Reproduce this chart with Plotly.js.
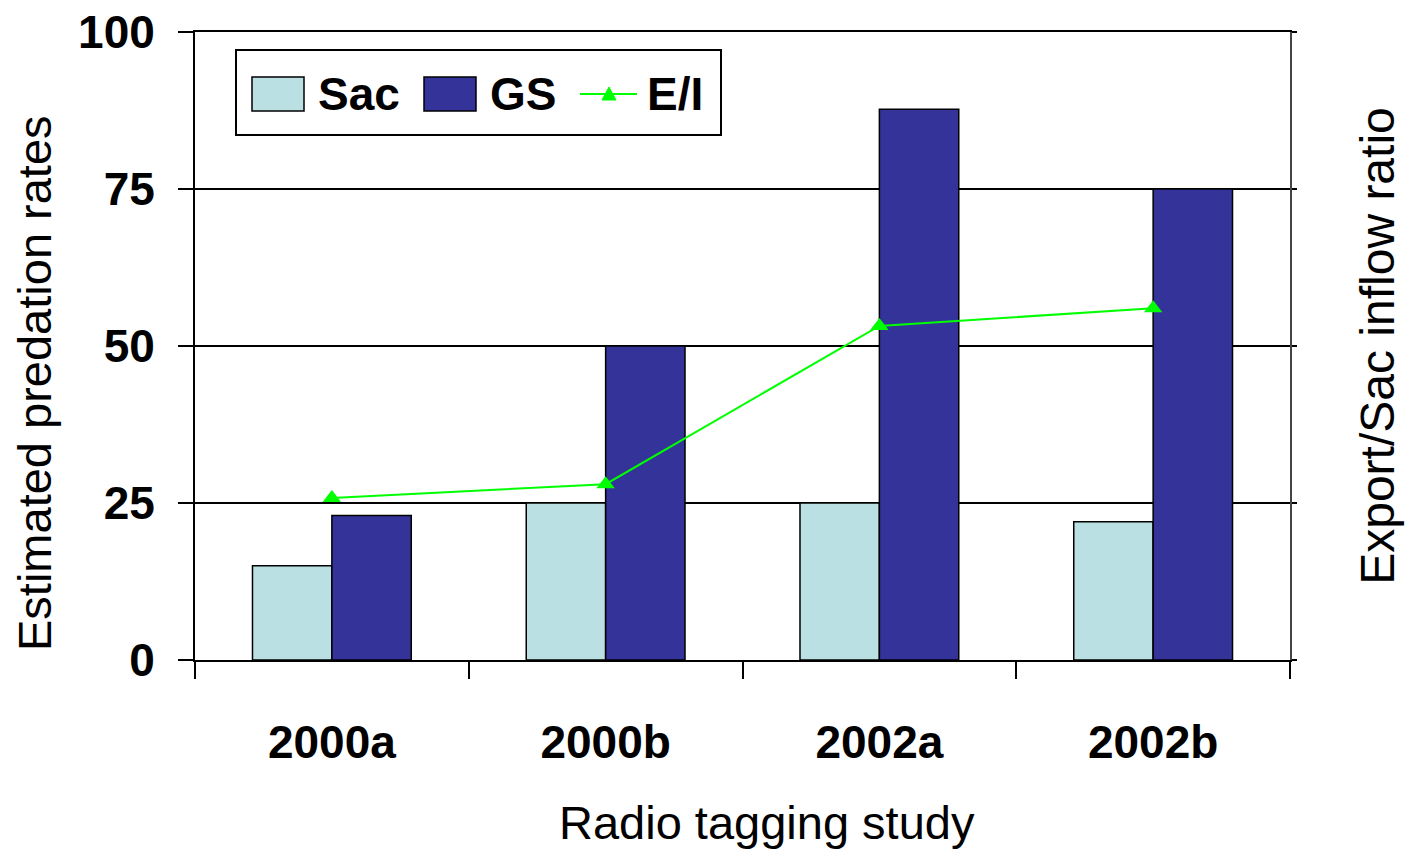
<!DOCTYPE html>
<html>
<head>
<meta charset="utf-8">
<script src="https://cdn.plot.ly/plotly-3.0.1.min.js"></script>
<style>html,body{margin:0;padding:0;background:#fff;}#chart{width:1406px;height:849px;}</style>
</head>
<body>
<div id="chart"></div>
<script>
// ---- data ----
const categories = ["2000a", "2000b", "2002a", "2002b"];
const sacValues = [15, 25, 25, 22];
const gsValues = [23, 50, 87.7, 75];
const eiValues = [0.258, 0.28, 0.532, 0.56];
const yTickValues = [0, 25, 50, 75, 100];
const yTickLabels = ["0", "25", "50", "75", "100"];
const xTitle = "Radio tagging study";
const yTitle = "Estimated predation rates";
const y2Title = "Export/Sac inflow ratio";

// ---- layout constants ----
const W = 1406, H = 849;
const L = 195, R = 1290, T = 32, B = 660;
const FONT = "Liberation Sans, Arial, sans-serif";
const px = x => (x - L) / (R - L);
const py = y => (B - y) / (B - T);

const traces = [
  {type: "bar", name: "Sac", x: categories, y: sacValues,
   marker: {color: "#BBE0E3", line: {color: "#000", width: 1.5}}, showlegend: false},
  {type: "bar", name: "GS", x: categories, y: gsValues,
   marker: {color: "#333399", line: {color: "#000", width: 1.5}}, showlegend: false},
  {type: "scatter", mode: "lines+markers", name: "E/I", x: categories, y: eiValues, yaxis: "y2",
   line: {color: "#00FF00", width: 2}, marker: {symbol: "triangle-up", size: 16, color: "#00FF00"},
   showlegend: false}
];

// custom legend (large swatches like the original)
const legY = 94;
const shapes = [
  {type: "rect", xref: "paper", yref: "paper", x0: px(236), x1: px(721), y0: py(135), y1: py(50),
   line: {color: "#000", width: 2}, fillcolor: "#fff", layer: "above"},
  {type: "rect", xref: "paper", yref: "paper", x0: px(252), x1: px(304), y0: py(111), y1: py(77),
   line: {color: "#000", width: 1.5}, fillcolor: "#BBE0E3", layer: "above"},
  {type: "rect", xref: "paper", yref: "paper", x0: px(424), x1: px(476), y0: py(111), y1: py(77),
   line: {color: "#000", width: 1.5}, fillcolor: "#333399", layer: "above"},
  {type: "line", xref: "paper", yref: "paper", x0: px(580), x1: px(637), y0: py(legY), y1: py(legY),
   line: {color: "#00FF00", width: 2}, layer: "above"},
  {type: "path", xref: "paper", yref: "paper", layer: "above",
   path: `M ${px(602)} ${py(legY+6)} L ${px(616)} ${py(legY+6)} L ${px(609)} ${py(legY-7)} Z`,
   fillcolor: "#00FF00", line: {color: "#00FF00", width: 1}}
];

const legFont = {family: FONT, size: 46, color: "#000", weight: "bold"};
const titleFont = {family: FONT, size: 47, color: "#000"};
const annotations = [
  {xref: "paper", yref: "paper", x: px(316), y: py(legY), xanchor: "left", yanchor: "middle",
   text: "Sac", showarrow: false, font: legFont},
  {xref: "paper", yref: "paper", x: px(488), y: py(legY), xanchor: "left", yanchor: "middle",
   text: "GS", showarrow: false, font: legFont},
  {xref: "paper", yref: "paper", x: px(645), y: py(legY), xanchor: "left", yanchor: "middle",
   text: "E/I", showarrow: false, font: legFont},
  {xref: "paper", yref: "paper", x: px(767), y: py(822), xanchor: "center", yanchor: "middle",
   text: xTitle, showarrow: false, font: titleFont},
  {xref: "paper", yref: "paper", x: px(34), y: py(383), xanchor: "center", yanchor: "middle",
   text: yTitle, textangle: -90, showarrow: false, font: titleFont}
];

const layout = {
  width: W, height: H,
  margin: {l: L, r: W - R, t: T, b: H - B, pad: 0},
  paper_bgcolor: "#fff", plot_bgcolor: "#fff",
  barmode: "group", bargap: 0.42, bargroupgap: 0,
  showlegend: false,
  xaxis: {
    type: "category", range: [-0.5, 3.5],
    showline: true, linecolor: "#000", linewidth: 2, mirror: true,
    ticks: "outside", tickson: "boundaries", ticklen: 17, tickwidth: 2, tickcolor: "#000",
    showgrid: false, zeroline: false,
    tickfont: {family: FONT, size: 46, color: "#000", weight: "bold"},
    ticklabelstandoff: 41,
    automargin: false
  },
  yaxis: {
    range: [0, 100], tickvals: yTickValues, ticktext: yTickLabels,
    showline: true, linecolor: "#000", linewidth: 2,
    ticks: "outside", ticklen: 15, tickwidth: 2, tickcolor: "#000",
    showgrid: true, gridcolor: "#000", gridwidth: 2, zeroline: false,
    tickfont: {family: FONT, size: 46, color: "#000", weight: "bold"},
    ticklabelstandoff: 14,
    automargin: false
  },
  yaxis2: {
    overlaying: "y", side: "right", range: [0, 1],
    tickvals: [0, 0.25, 0.5, 0.75, 1], showticklabels: false,
    showline: true, linecolor: "#444", linewidth: 2,
    ticks: "outside", ticklen: 5, tickwidth: 2, tickcolor: "#000",
    showgrid: false, zeroline: false,
    title: {text: y2Title, font: {family: FONT, size: 48, color: "#000"}, standoff: 64},
    automargin: false
  },
  shapes: shapes,
  annotations: annotations
};

Plotly.newPlot("chart", traces, layout, {staticPlot: true, displayModeBar: false});
</script>
</body>
</html>
